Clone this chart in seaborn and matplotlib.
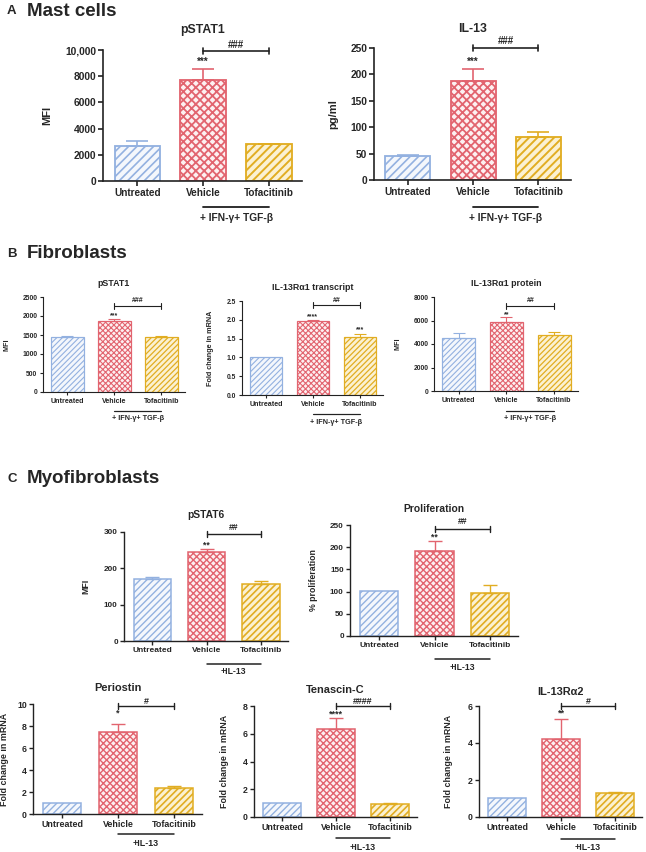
import numpy as np
import pandas as pd
import matplotlib
matplotlib.use("Agg")
import matplotlib.pyplot as plt
import seaborn as sns
from matplotlib.transforms import blended_transform_factory

sns.set_theme(style="ticks")
plt.rcParams["font.family"] = ["Liberation Sans", "DejaVu Sans"]
plt.rcParams["font.weight"] = "bold"

# ---------------- data ----------------
categories = ["Untreated", "Vehicle", "Tofacitinib"]

mast_pstat1 = [2700, 7700, 2800]
mast_pstat1_err = [350, 850, 40]
mast_il13 = [45, 188, 82]
mast_il13_err = [2, 22, 9]

fib_pstat1 = [1455, 1875, 1455]
fib_pstat1_err = [30, 35, 25]
fib_il13ra1_transcript = [1.0, 1.96, 1.53]
fib_il13ra1_transcript_err = [0.0, 0.03, 0.08]
fib_il13ra1_protein = [4530, 5900, 4740]
fib_il13ra1_protein_err = [370, 370, 300]

myo_pstat6 = [170, 244, 158]
myo_pstat6_err = [5, 9, 8]
myo_prolif = [101, 192, 97]
myo_prolif_err = [0, 23, 18]
myo_periostin = [1.03, 7.43, 2.39]
myo_periostin_err = [0.0, 0.75, 0.12]
myo_tenascin = [1.0, 6.36, 0.96]
myo_tenascin_err = [0.0, 0.8, 0.06]
myo_il13ra2 = [1.02, 4.22, 1.31]
myo_il13ra2_err = [0.0, 1.06, 0.05]

colors = ["#93b1e0", "#e2646f", "#e1ad22"]
faces = ["#f4f7fc", "#fdf0f1", "#fbf1d2"]

W, H = 646, 852
fig = plt.figure(figsize=(W / 100, H / 100), dpi=100)
fig.patch.set_facecolor("white")

STYLE = {
    "A": dict(xt=7.2, yt=7.4, title=8.8, ylab=8.0, mark=7.0, cond=7.4, lw=1.2,
              cap=8, hatches=["////", "xxxx", "////"], hlw=[1.2, 1.3, 1.4], ebw=1.2, tick=3.5),
    "B": dict(xt=5.1, yt=4.9, title=6.4, ylab=5.2, mark=5.0, cond=5.2, lw=0.8,
              cap=4, hatches=["//////", "xxxxxx", "//////"], hlw=[0.8, 0.8, 0.9], ebw=0.8, tick=2.5),
    "C": dict(xt=6.0, yt=5.9, title=7.4, ylab=6.3, mark=6.2, cond=6.2, lw=1.0,
              cap=5, hatches=["/////", "xxxxx", "/////"], hlw=[1.0, 1.0, 1.2], ebw=1.0, tick=3),
    "D": dict(xt=6.4, yt=6.3, title=7.9, ylab=6.4, mark=6.4, cond=6.4, lw=1.0,
              cap=5, hatches=["/////", "xxxxx", "/////"], hlw=[1.0, 1.0, 1.2], ebw=1.0, tick=3),
}


def draw_panel(means, errs, title, ylabel, ymax, step, labels, box, title_y, ylabel_x,
               bracket_y, hash_txt, hash_y, stars, cond_txt, cond_line_y, cond_text_y, st):
    L, R, T, B = box
    ax = fig.add_axes([L / W, 1 - B / H, (R - L) / W, (B - T) / H])
    ph = B - T

    def fy(ypix):
        return (B - ypix) / ph

    df = pd.DataFrame({"group": categories, "value": means})
    sns.barplot(data=df, x="group", y="value", hue="group", order=categories,
                hue_order=categories, palette=colors, ax=ax, width=0.69,
                errorbar=None, legend=False)
    for patch, col, fc, hat, hl in zip(ax.patches, colors, faces, st["hatches"], st["hlw"]):
        patch.set_facecolor(fc)
        patch.set_edgecolor(col)
        patch.set_hatch(hat)
        patch.set_linewidth(st["lw"] * 1.1)
        if hasattr(patch, "set_hatch_linewidth"):
            patch.set_hatch_linewidth(hl)
    for i, (m, e, col) in enumerate(zip(means, errs, colors)):
        if e > 0:
            ax.errorbar([i], [m], yerr=[[0], [e]], fmt="none", ecolor=col,
                        elinewidth=st["ebw"], capsize=st["cap"], capthick=st["ebw"], zorder=1)

    ax.set_xlim(-0.52, 2.5)
    ax.set_ylim(0, ymax)
    ticks = np.arange(0, ymax + step / 2, step)
    ax.set_yticks(ticks)
    ax.set_yticklabels(labels, fontsize=st["yt"], fontweight="bold")
    ax.set_xticks([0, 1, 2])
    ax.set_xticklabels(categories, fontsize=st["xt"], fontweight="bold")
    ax.set_xlabel("")
    ax.set_ylabel(ylabel, fontsize=st["ylab"], fontweight="bold")
    ax.yaxis.set_label_coords((ylabel_x - L) / (R - L), 0.5)
    for s in ["top", "right"]:
        ax.spines[s].set_visible(False)
    for s in ["left", "bottom"]:
        ax.spines[s].set_linewidth(st["lw"])
        ax.spines[s].set_color("#222222")
    ax.tick_params(axis="both", length=st["tick"], width=st["lw"], color="#222222", pad=1.5)
    ax.set_facecolor("white")

    tr = blended_transform_factory(ax.transData, ax.transAxes)
    ax.text(0.5, fy(title_y), title, transform=ax.transAxes, ha="center", va="center",
            fontsize=st["title"], fontweight="bold")
    # bracket
    d = 3.0 / ph
    by = fy(bracket_y)
    ax.plot([1, 2], [by, by], transform=tr, color="#222222", lw=st["lw"], clip_on=False)
    for xx in (1, 2):
        ax.plot([xx, xx], [by - d, by + d], transform=tr, color="#222222", lw=st["lw"], clip_on=False)
    ax.text(1.5, fy(hash_y), hash_txt, transform=tr, ha="center", va="center",
            fontsize=st["mark"], fontweight="bold")
    for xi, txt, ypix in stars:
        ax.text(xi, fy(ypix), txt, transform=tr, ha="center", va="center",
                fontsize=st["mark"], fontweight="bold")
    # condition
    cy = fy(cond_line_y)
    ax.plot([1, 2], [cy, cy], transform=tr, color="#222222", lw=st["lw"] * 1.1, clip_on=False)
    ax.text(1.5, fy(cond_text_y), cond_txt, transform=tr, ha="center", va="center",
            fontsize=st["cond"], fontweight="bold")
    return ax


COND1 = "+ IFN-\u03b3+ TGF-\u03b2"
COND2 = "+IL-13"

# ---- A ----
draw_panel(mast_pstat1, mast_pstat1_err, "pSTAT1", "MFI", 10000, 2000,
           ["0", "2000", "4000", "6000", "8000", "10,000"], (103, 302, 50, 181), 30, 52,
           51, "###", 45, [(1, "***", 62)], COND1, 207, 218, STYLE["A"])
draw_panel(mast_il13, mast_il13_err, "IL-13", "pg/ml", 250, 50,
           ["0", "50", "100", "150", "200", "250"], (374, 571, 48, 180), 29, 338,
           48, "###", 41, [(1, "***", 62)], COND1, 207, 218, STYLE["A"])

# ---- B ----
draw_panel(fib_pstat1, fib_pstat1_err, "pSTAT1", "MFI", 2500, 500,
           ["0", "500", "1000", "1500", "2000", "2500"], (43, 185, 297, 392), 284, 11,
           306, "###", 301, [(1, "***", 316)], COND1, 411, 419, STYLE["B"])
draw_panel(fib_il13ra1_transcript, fib_il13ra1_transcript_err, "IL-13R\u03b11 transcript",
           "Fold change in mRNA", 2.5, 0.5,
           ["0.0", "0.5", "1.0", "1.5", "2.0", "2.5"], (242, 383, 301, 395), 287, 214,
           305, "##", 300, [(1, "****", 317), (2, "***", 330)], COND1, 414, 423, STYLE["B"])
draw_panel(fib_il13ra1_protein, fib_il13ra1_protein_err, "IL-13R\u03b11 protein", "MFI", 8000, 2000,
           ["0", "2000", "4000", "6000", "8000"], (434, 578, 297, 391), 284, 402,
           306, "##", 301, [(1, "**", 315)], COND1, 411, 418, STYLE["B"])

# ---- C ----
draw_panel(myo_pstat6, myo_pstat6_err, "pSTAT6", "MFI", 300, 100,
           ["0", "100", "200", "300"], (124, 288, 532, 641), 515, 90,
           534, "##", 527, [(1, "**", 545)], COND2, 664, 672, STYLE["C"])
draw_panel(myo_prolif, myo_prolif_err, "Proliferation", "% proliferation", 250, 50,
           ["0", "50", "100", "150", "200", "250"], (350, 518, 525, 636), 509, 318,
           529, "##", 522, [(1, "**", 537)], COND2, 659, 667, STYLE["C"])
draw_panel(myo_periostin, myo_periostin_err, "Periostin", "Fold change in mRNA", 10, 2,
           ["0", "2", "4", "6", "8", "10"], (33, 202, 704, 814), 688, 9,
           706, "#", 701, [(1, "*", 713)], COND2, 834, 844, STYLE["D"])
draw_panel(myo_tenascin, myo_tenascin_err, "Tenascin-C", "Fold change in mRNA", 8, 2,
           ["0", "2", "4", "6", "8"], (254, 417, 706, 817), 690, 229,
           706, "####", 701, [(1, "****", 714)], COND2, 838, 847, STYLE["D"])
draw_panel(myo_il13ra2, myo_il13ra2_err, "IL-13R\u03b12", "Fold change in mRNA", 6, 2,
           ["0", "2", "4", "6"], (479, 642, 706, 817), 692, 453,
           706, "#", 701, [(1, "**", 713)], COND2, 839, 847, STYLE["D"])

# ---- headings ----
for letter, name, y in [("A", "Mast cells", 11), ("B", "Fibroblasts", 254), ("C", "Myofibroblasts", 479)]:
    fig.text(7 / W, 1 - y / H, letter, fontsize=9.5, fontweight="bold", va="center", ha="left")
    fig.text(27 / W, 1 - y / H, name, fontsize=13.5, fontweight="bold", va="center", ha="left")

fig.savefig("out.png", dpi=100, facecolor="white")
